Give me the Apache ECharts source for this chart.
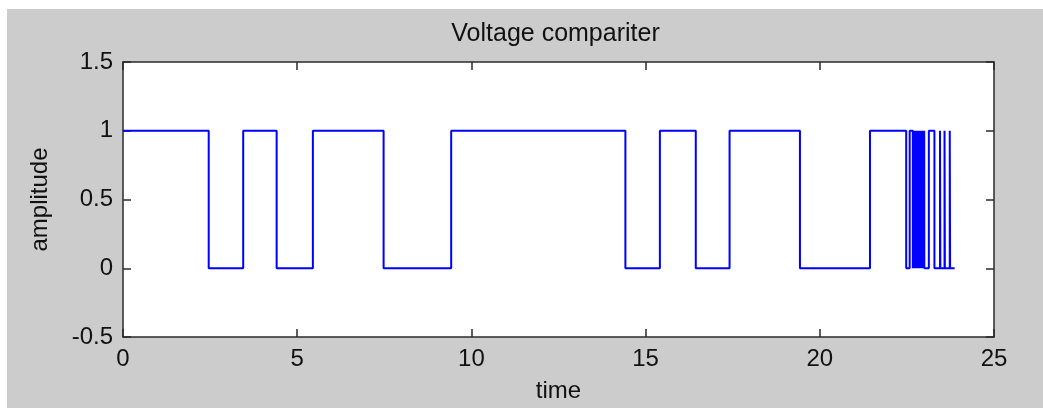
<!DOCTYPE html>
<html>
<head>
<meta charset="utf-8">
<script src="https://cdn.jsdelivr.net/npm/echarts@6/dist/echarts.min.js"></script>
<style>
  html, body { margin: 0; padding: 0; background: #ffffff; }
  #frame { position: absolute; left: 7px; top: 9px; right: 0; bottom: 0; background: #cccccc; }
  #chart { position: absolute; left: 0; top: 0; width: 1043px; height: 408px; }
</style>
</head>
<body>
<div id="frame"></div>
<div id="chart"></div>
<script>
// Comparator output: switching instants (time) and the level held after each one
const edgeTimes = [
  0, 2.46, 3.45, 4.41, 5.45, 7.48, 9.42, 14.42, 15.41, 16.44, 17.41, 19.43, 21.44,
  22.48, 22.58,
  22.67, 22.682, 22.691, 22.703, 22.712, 22.724, 22.733, 22.745,
  22.754, 22.766, 22.775, 22.787, 22.796, 22.808, 22.817, 22.829,
  22.838, 22.85, 22.859, 22.871, 22.88, 22.892, 22.901, 22.913,
  22.922, 22.934, 22.943, 22.955, 22.964, 22.976, 22.985, 22.997,
  23.0, 23.13, 23.29, 23.45, 23.46, 23.58, 23.59, 23.73, 23.74, 23.87
];
const edgeLevels = [
  1, 0, 1, 0, 1, 0, 1, 0, 1, 0, 1, 0, 1,
  0, 1,
  0, 1, 0, 1, 0, 1, 0, 1,
  0, 1, 0, 1, 0, 1, 0, 1,
  0, 1, 0, 1, 0, 1, 0, 1,
  0, 1, 0, 1, 0, 1, 0, 1,
  0, 1, 0, 1, 0, 1, 0, 1, 0, 0
];
const xTicks = { min: 0, max: 25, step: 5 };
const yTicks = { min: -0.5, max: 1.5, step: 0.5 };

const titleText = 'Voltage compariter';
const xName = 'time';
const yName = 'amplitude';

const FONT = '"Liberation Sans", Arial, Helvetica, sans-serif';
const INK = '#111111';
const FRAME = '#2b2b2b';

const points = edgeTimes.map((t, i) => [t, edgeLevels[i]]);

const plot = { left: 123, top: 62, right: 994, bottom: 338 };

function axisBase(extra) {
  return Object.assign({
    type: 'value',
    axisLine: { show: true, onZero: false, lineStyle: { color: FRAME, width: 1.5 } },
    axisTick: { show: true, inside: true, length: 8, lineStyle: { color: FRAME, width: 1.5 } },
    splitLine: { show: false },
  }, extra);
}

const chart = echarts.init(document.getElementById('chart'), null, { renderer: 'canvas' });
chart.setOption({
  backgroundColor: 'transparent',
  animation: false,
  grid: {
    left: plot.left, top: plot.top,
    width: plot.right - plot.left, height: plot.bottom - plot.top,
    show: true, backgroundColor: '#ffffff', borderWidth: 0
  },
  graphic: [{
    type: 'text',
    x: (plot.left + plot.right) / 2 - 3,
    y: 34,
    style: {
      text: titleText, fill: INK, font: '25px ' + FONT,
      align: 'center', verticalAlign: 'middle'
    }
  }],
  xAxis: [
    axisBase({
      position: 'bottom', min: xTicks.min, max: xTicks.max, interval: xTicks.step,
      name: xName, nameLocation: 'middle', nameGap: 42,
      nameTextStyle: { color: INK, fontSize: 24, fontFamily: FONT },
      axisLabel: { color: INK, fontSize: 24, fontFamily: FONT, margin: 10 }
    }),
    axisBase({
      position: 'top', min: xTicks.min, max: xTicks.max, interval: xTicks.step,
      axisLabel: { show: false }
    })
  ],
  yAxis: [
    axisBase({
      position: 'left', min: yTicks.min, max: yTicks.max, interval: yTicks.step,
      name: yName, nameLocation: 'middle', nameGap: 71,
      nameTextStyle: { color: INK, fontSize: 24, fontFamily: FONT },
      axisLabel: { color: INK, fontSize: 24, fontFamily: FONT, margin: 10 }
    }),
    axisBase({
      position: 'right', min: yTicks.min, max: yTicks.max, interval: yTicks.step,
      axisLabel: { show: false }
    })
  ],
  series: [{
    type: 'line',
    xAxisIndex: 0, yAxisIndex: 0,
    data: points,
    step: 'end',
    showSymbol: false,
    symbol: 'none',
    lineStyle: { color: '#0000ff', width: 2 },
    silent: true
  }]
});
</script>
</body>
</html>
